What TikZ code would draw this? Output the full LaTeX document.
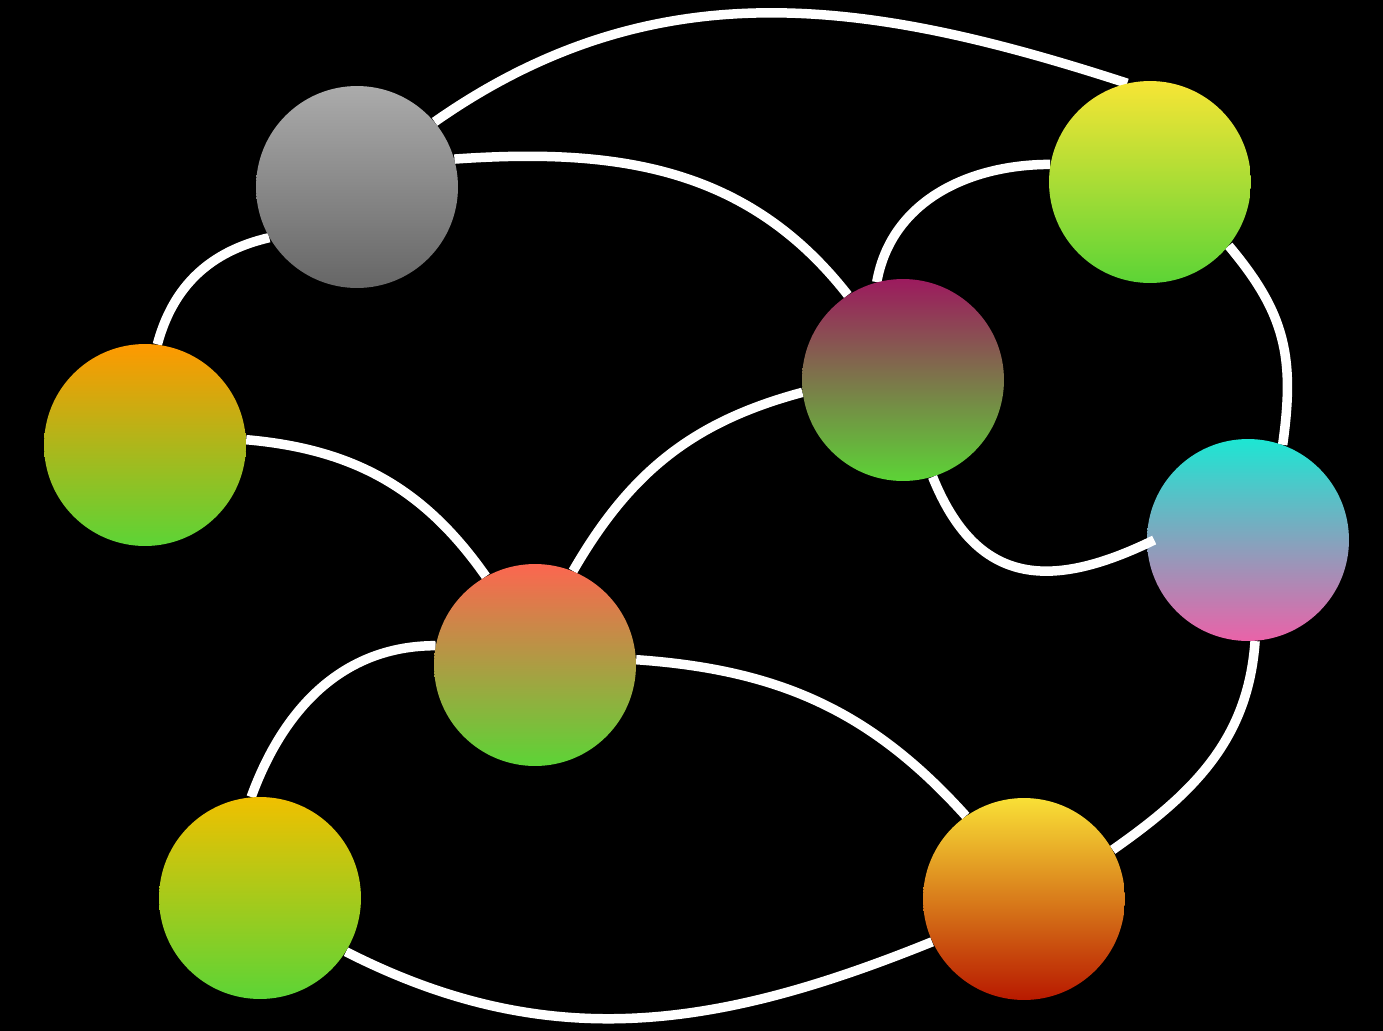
\documentclass[tikz,border=0pt]{standalone}
\usepackage{xcolor}
\usepackage{tikz}
\definecolor{leaf}{HTML}{5CD436}
\definecolor{greytop}{HTML}{ABABAB}
\definecolor{greybot}{HTML}{666666}
\definecolor{limetop}{HTML}{F7E535}
\definecolor{ambertop}{HTML}{FF9900}
\definecolor{plumtop}{HTML}{9C1A5E}
\definecolor{aquatop}{HTML}{1DE6D3}
\definecolor{aquabot}{HTML}{EA62A8}
\definecolor{coraltop}{HTML}{FC6650}
\definecolor{olivetop}{HTML}{F0C000}
\definecolor{embertop}{HTML}{F9E036}
\definecolor{emberbot}{HTML}{B81900}
\pgfdeclarelayer{background}
\pgfdeclarelayer{edges}
\pgfsetlayers{background,edges,main}

\begin{document}
\begin{tikzpicture}[x=0.02cm,y=-0.02cm,
  ball/.style={circle,minimum size=4.04cm,inner sep=0pt},
  link/.style={white,line width=0.19cm}]
\useasboundingbox (0,0) rectangle (1383,1031);
\begin{pgfonlayer}{background}
\fill[black] (0,0) rectangle (1383,1031);
\end{pgfonlayer}
% balls
\node[ball,top color=greytop,bottom color=greybot] (grey) at (357,187) {};
\node[ball,top color=limetop,bottom color=leaf] (lime) at (1150,182) {};
\node[ball,top color=ambertop,bottom color=leaf] (amber) at (145,445) {};
\node[ball,top color=plumtop,bottom color=leaf] (plum) at (903,380) {};
\node[ball,top color=aquatop,bottom color=aquabot] (aqua) at (1248,540) {};
\node[ball,top color=coraltop,bottom color=leaf] (coral) at (535,665) {};
\node[ball,top color=olivetop,bottom color=leaf] (olive) at (260,898) {};
\node[ball,top color=embertop,bottom color=emberbot] (ember) at (1024,899) {};
% links
\begin{pgfonlayer}{edges}
\draw[link] (grey.40) to[out=35,in=162] (lime.103);
\draw[link] (grey.16) to[out=4,in=128] (plum.123);
\draw[link] (grey.210) to[out=193,in=75] (amber.83);
\draw[link] (amber.3) to[out=-5,in=125] (coral.119);
\draw[link] (coral.68) to[out=60,in=195] (plum.187);
\draw[link] (plum.105) to[out=80,in=180] (lime.170);
\draw[link] (lime.-39) to[out=-50,in=82,looseness=1.1] (aqua.70);
\draw[link] (coral.169) to[out=180,in=70] (olive.95);
\draw[link] (coral.3) to[out=-4,in=132] (ember.125);
\draw[link] (aqua.-86) to[out=-94,in=35] (ember.29);
\draw[link] (olive.-32) to[out=-27,in=202] (ember.205);
\end{pgfonlayer}
\draw[link] (plum.-73) to[out=-68,in=206,looseness=1.3] ([xshift=0.15cm]aqua.west);
\end{tikzpicture}
\end{document}
